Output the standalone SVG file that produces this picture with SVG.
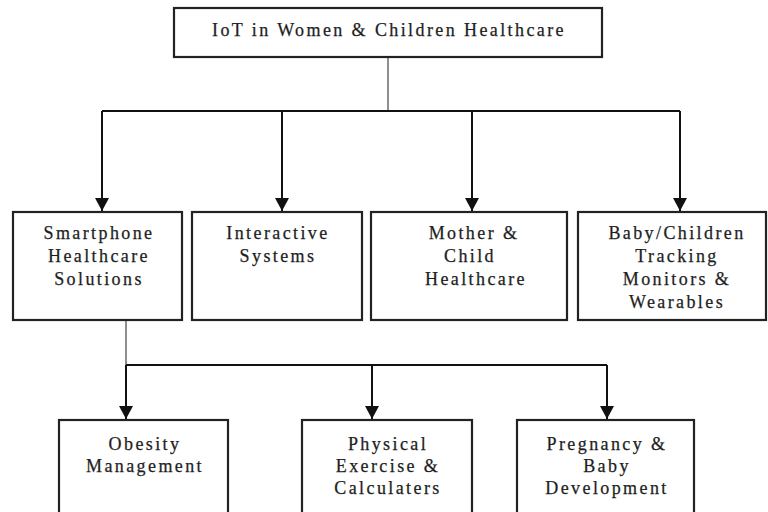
<svg xmlns="http://www.w3.org/2000/svg" width="768" height="512" viewBox="0 0 768 512">
<defs>
<marker id="arr" markerUnits="userSpaceOnUse" markerWidth="14" markerHeight="14" refX="13" refY="7" orient="auto">
<path d="M0,0 L13,7 L0,14 z" fill="#111"/>
</marker>
<style>
.box{fill:#fff;stroke:#222;stroke-width:2.2}
text{font-family:'Liberation Serif','DejaVu Serif',serif;font-size:18px;fill:#1e1e1e;text-anchor:middle;letter-spacing:2.4px;stroke:#1e1e1e;stroke-width:0.25}
.c{fill:none;stroke:#111;stroke-width:2}
.thin{fill:none;stroke:#444;stroke-width:1.2}
</style>
</defs>
<rect width="768" height="512" fill="#fff"/>
<g id="connectors">
<path class="thin" d="M388,57 V111"/>
<path class="c" d="M102,111 H680"/>
<path class="c" d="M102,111 V211" marker-end="url(#arr)"/>
<path class="c" d="M282,111 V211" marker-end="url(#arr)"/>
<path class="c" d="M472,111 V211" marker-end="url(#arr)"/>
<path class="c" d="M680,111 V211" marker-end="url(#arr)"/>
<path class="thin" d="M126,320 V365"/>
<path class="c" d="M126,365 H607"/>
<path class="c" d="M126,365 V419" marker-end="url(#arr)"/>
<path class="c" d="M372,365 V419" marker-end="url(#arr)"/>
<path class="c" d="M607,365 V419" marker-end="url(#arr)"/>
</g>
<g id="root">
<rect class="box" x="174" y="8" width="428" height="49"/>
<text x="389" y="36">IoT in Women &amp; Children Healthcare</text>
</g>
<g id="smartphone">
<rect class="box" x="13" y="212" width="169" height="108"/>
<text x="99" y="239">Smartphone</text>
<text x="99" y="262">Healthcare</text>
<text x="99" y="285">Solutions</text>
</g>
<g id="interactive">
<rect class="box" x="192" y="212" width="170" height="108"/>
<text x="278" y="239">Interactive</text>
<text x="278" y="262">Systems</text>
</g>
<g id="mother">
<rect class="box" x="371" y="212" width="196" height="108"/>
<text x="474" y="239">Mother &amp;</text>
<text x="470" y="262">Child</text>
<text x="476" y="285">Healthcare</text>
</g>
<g id="baby">
<rect class="box" x="578" y="212" width="188" height="108"/>
<text x="677" y="239">Baby/Children</text>
<text x="677" y="262">Tracking</text>
<text x="677" y="285">Monitors &amp;</text>
<text x="677" y="308">Wearables</text>
</g>
<g id="obesity">
<rect class="box" x="59" y="420" width="169" height="100"/>
<text x="145" y="450">Obesity</text>
<text x="145" y="472">Management</text>
</g>
<g id="physical">
<rect class="box" x="302" y="420" width="170" height="100"/>
<text x="388" y="450">Physical</text>
<text x="388" y="472">Exercise &amp;</text>
<text x="388" y="494">Calculaters</text>
</g>
<g id="pregnancy">
<rect class="box" x="517" y="420" width="177" height="100"/>
<text x="607" y="450">Pregnancy &amp;</text>
<text x="607" y="472">Baby</text>
<text x="607" y="494">Development</text>
</g>
</svg>
